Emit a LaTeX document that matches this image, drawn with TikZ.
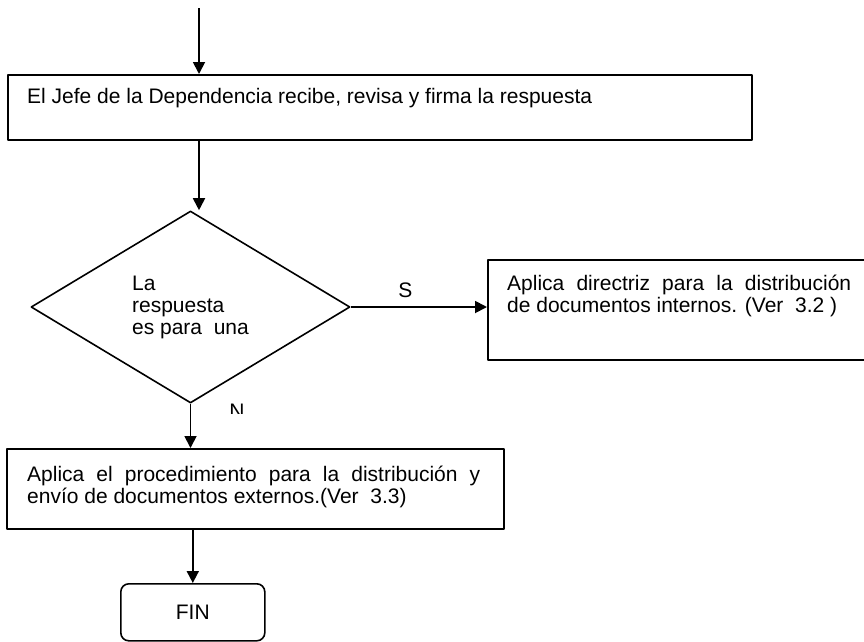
\documentclass[tikz,border=0pt]{standalone}
\usepackage{fontspec}
\setmainfont{Liberation Sans}
\usetikzlibrary{shapes.geometric,arrows.meta}
\hyphenpenalty=10000
\begin{document}
\begin{tikzpicture}[x=1pt,y=-1pt,>={Triangle[length=12pt,width=12pt]}, line join=round,
    caja/.style={draw,line width=1.6pt,inner sep=0pt,anchor=north west},
    texto/.style={inner sep=0pt,font=\fontsize{21}{22}\selectfont,align=justify,anchor=base west},
    flecha/.style={->,line width=1.8pt}]
        \def\w{21} \def\lw{1.6pt}
\useasboundingbox (0,0) rectangle (864,641);
\clip (0,0) rectangle (864,641);
\coordinate (I) at (199,8);
\node[caja,minimum width=744pt,minimum height=65pt] (J) at (7,74) {};
\node[texto] (Jt) at (27,103) {El Jefe de la Dependencia recibe, revisa y firma la respuesta};
\node[draw,diamond,line width=\lw,minimum width=319pt,minimum height=192pt,inner sep=0pt,align=left,font=\fontsize{\w}{22}\selectfont] (R) at (190.5,307) {La\\respuesta\\es para\ \ una};
\node[caja,minimum width=400pt,minimum height=100pt] (D) at (487,259) {};
\node[texto,text width=344pt] (Dt) at (507,290) {Aplica directriz para la distribución\linebreak de documentos internos. (Ver\ \ 3.2\ )};
\node[caja,minimum width=497pt,minimum height=80pt] (P) at (6,448) {};
\node[texto,text width=453pt] (Pt) at (27,481) {Aplica el procedimiento para la distribución y\linebreak envío de documentos externos.(Ver\ \ 3.3)};
\node[caja,rounded corners=8pt,minimum width=144pt,minimum height=57pt,font=\fontsize{\w}{22}\selectfont] (F) at (120,583) {FIN};
        \draw[flecha] (I) -- (I |- J.north);
        \draw[flecha] (I |- J.south) -- (I |- R.north);
        \draw[flecha] (R.east) -- (R.east -| D.west) node[pos=.4,above=8pt,inner sep=0pt,font=\fontsize{\w}{22}\selectfont] (S) {S};
        \draw[flecha] (R.south) -- (R.south |- P.north);
        \draw[flecha] (P.south -| F.north) -- (F.north);
\begin{scope}
\clip (0,0) rectangle (864,413);
\node[anchor=north,inner sep=0pt,font=\fontsize{\w}{22}\selectfont] (N) at (237,404) {N};
\end{scope}
    \end{tikzpicture}
\end{document}
